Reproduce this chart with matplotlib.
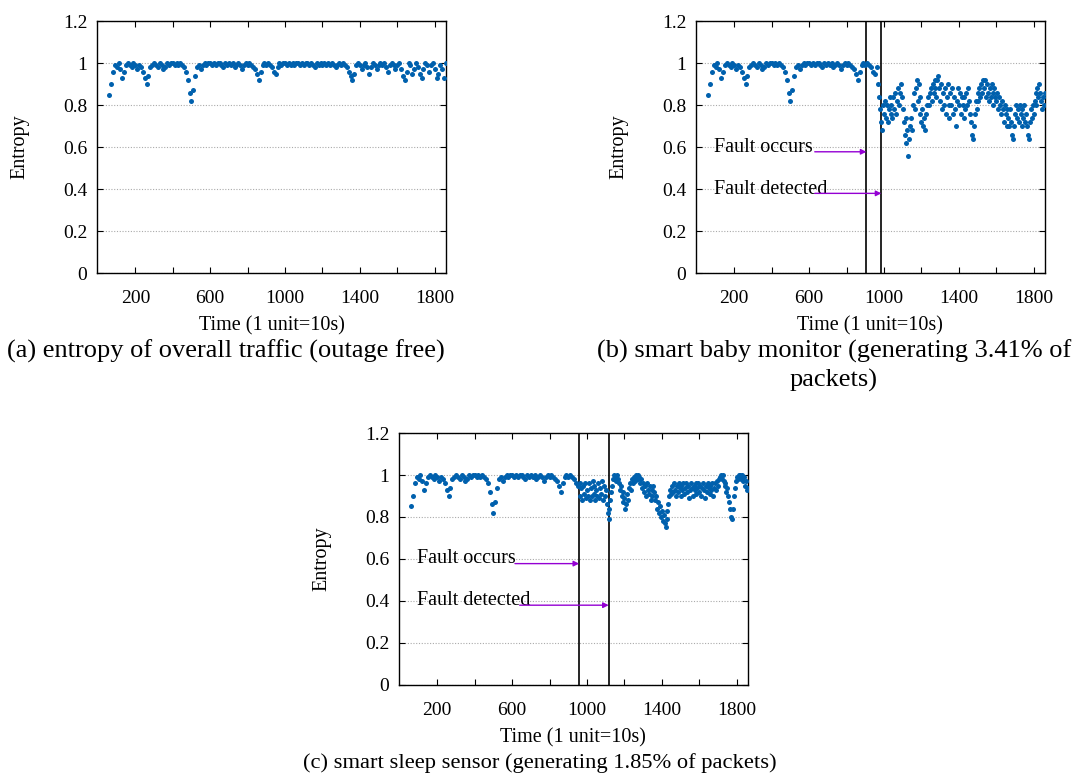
import numpy as np
import matplotlib
matplotlib.use('Agg')
import matplotlib.pyplot as plt

plt.rcParams['font.family'] = ['Liberation Serif', 'DejaVu Serif']

# time axis (1 unit = 10s)
t_start = 60
t_step = 10      # baseline read every 10 units
t_step_f = 5     # post-fault parts read every 5 units

# entropy of overall traffic; also the pre-fault part of (b) and (c)
base = [0.85, 0.90, 0.96, 0.99, 0.98, 1.0, 0.97, 0.93, 0.96, 0.99,
        1.0, 0.99, 0.98, 1.0, 0.99, 0.97, 0.99, 0.98, 0.96, 0.93,
        0.90, 0.94, 0.98, 0.99, 1.0, 0.99, 0.98, 1.0, 0.99, 0.97,
        0.98, 1.0, 0.99, 1.0, 1.0, 0.99, 1.0, 0.99, 1.0, 0.99,
        0.98, 0.96, 0.92, 0.86, 0.82, 0.87, 0.94, 0.98, 0.99, 0.97,
        0.99, 1.0, 0.99, 1.0, 1.0, 0.99, 1.0, 0.99, 1.0, 1.0,
        0.99, 0.98, 1.0, 0.99, 1.0, 0.99, 1.0, 0.98, 0.99, 1.0,
        0.99, 0.97, 0.99, 1.0, 0.99, 1.0, 0.99, 0.98, 0.97, 0.95,
        0.92, 0.96, 0.99, 1.0, 0.99, 1.0, 0.99, 0.98, 0.96, 0.95,
        0.98, 1.0, 0.99, 1.0, 1.0, 0.99, 1.0, 0.99, 1.0, 0.99,
        1.0, 1.0, 0.99, 1.0, 0.99, 1.0, 1.0, 0.99, 1.0, 0.99,
        0.98, 1.0, 0.99, 1.0, 0.99, 1.0, 0.99, 1.0, 0.99, 1.0,
        0.99, 0.98, 0.99, 1.0, 0.99, 1.0, 0.99, 0.98, 0.96, 0.94,
        0.92, 0.95, 0.99, 1.0, 0.99, 0.97, 0.99, 1.0, 0.98, 0.95,
        0.98, 1.0, 0.99, 0.97, 0.99, 1.0, 0.99, 1.0, 0.98, 0.96,
        0.99, 1.0, 0.99, 0.97, 0.99, 1.0, 0.97, 0.94, 0.92, 0.96,
        1.0, 0.99, 0.95, 0.97, 1.0, 0.98, 0.95, 0.93, 0.97, 1.0,
        0.99, 0.96, 0.99, 1.0, 0.97, 0.93, 0.95, 0.99, 0.97, 0.93,
        1.0]

# (b) smart baby monitor, after the fault (from t=970)
b_start = 970
b_after = [0.90, 0.84, 0.78, 0.72, 0.68, 0.80, 0.76, 0.82, 0.74, 0.80,
           0.72, 0.78, 0.84, 0.76, 0.80, 0.74, 0.84, 0.78, 0.86, 0.76,
           0.82, 0.88, 0.80, 0.86, 0.90, 0.84, 0.78, 0.72, 0.66, 0.74,
           0.62, 0.68, 0.56, 0.64, 0.70, 0.74, 0.68, 0.80, 0.86, 0.78,
           0.88, 0.92, 0.82, 0.90, 0.76, 0.84, 0.72, 0.78, 0.70, 0.74,
           0.68, 0.76, 0.80, 0.84, 0.80, 0.86, 0.88, 0.82, 0.90, 0.86,
           0.92, 0.88, 0.84, 0.92, 0.94, 0.88, 0.82, 0.90, 0.78, 0.86,
           0.80, 0.88, 0.76, 0.84, 0.90, 0.80, 0.74, 0.86, 0.80, 0.88,
           0.76, 0.84, 0.78, 0.70, 0.82, 0.88, 0.80, 0.86, 0.76, 0.84,
           0.80, 0.74, 0.84, 0.78, 0.86, 0.80, 0.88, 0.82, 0.76, 0.72,
           0.66, 0.64, 0.70, 0.76, 0.82, 0.78, 0.86, 0.82, 0.88, 0.84,
           0.90, 0.86, 0.92, 0.88, 0.92, 0.84, 0.90, 0.86, 0.82, 0.88,
           0.84, 0.90, 0.86, 0.80, 0.88, 0.84, 0.82, 0.86, 0.78, 0.84,
           0.80, 0.76, 0.82, 0.78, 0.72, 0.80, 0.76, 0.70, 0.78, 0.74,
           0.70, 0.78, 0.72, 0.66, 0.64, 0.70, 0.76, 0.80, 0.74, 0.78,
           0.72, 0.80, 0.76, 0.70, 0.78, 0.74, 0.80, 0.72, 0.76, 0.70,
           0.66, 0.64, 0.72, 0.78, 0.74, 0.80, 0.76, 0.82, 0.86, 0.80,
           0.88, 0.84, 0.90, 0.86, 0.82, 0.78, 0.84, 0.80, 0.86]

# (c) smart sleep sensor, after the fault (from t=960)
c_start = 960
c_after = [0.96, 0.90, 0.94, 0.88, 0.95, 0.91, 0.96, 0.89, 0.93, 0.90,
           0.96, 0.88, 0.94, 0.90, 0.97, 0.91, 0.95, 0.88, 0.93, 0.90,
           0.96, 0.89, 0.94, 0.91, 0.97, 0.88, 0.95, 0.90, 0.93, 0.86,
           0.82, 0.79, 0.84, 0.88, 0.92, 0.95, 0.98, 1.0, 0.99, 0.97,
           1.0, 0.98, 0.96, 0.93, 0.95, 0.90, 0.92, 0.87, 0.89, 0.84,
           0.86, 0.91, 0.88, 0.94, 0.96, 0.93, 0.98, 0.96, 0.99, 0.97,
           1.0, 0.99, 1.0, 0.98, 0.99, 0.96, 0.98, 0.94, 0.96, 0.92,
           0.95, 0.90, 0.96, 0.93, 0.91, 0.95, 0.88, 0.93, 0.90, 0.95,
           0.92, 0.88, 0.90, 0.84, 0.87, 0.82, 0.85, 0.80, 0.83, 0.78,
           0.81, 0.77, 0.75, 0.79, 0.83, 0.86, 0.90, 0.93, 0.91, 0.95,
           0.92, 0.96, 0.93, 0.90, 0.95, 0.92, 0.96, 0.94, 0.90, 0.95,
           0.93, 0.96, 0.91, 0.94, 0.96, 0.92, 0.95, 0.89, 0.93, 0.96,
           0.94, 0.90, 0.95, 0.93, 0.96, 0.91, 0.94, 0.96, 0.92, 0.95,
           0.90, 0.94, 0.96, 0.93, 0.89, 0.95, 0.92, 0.96, 0.94, 0.91,
           0.95, 0.93, 0.96, 0.90, 0.94, 0.96, 0.93, 0.97, 0.95, 0.98,
           0.99, 1.0, 0.98, 1.0, 0.97, 0.95, 0.96, 0.92, 0.94, 0.90,
           0.87, 0.84, 0.80, 0.79, 0.84, 0.90, 0.94, 0.97, 0.99, 0.98,
           1.0, 0.99, 1.0, 0.98, 1.0, 0.97, 0.99, 0.95, 0.97, 0.93,
           0.94]

b_fault = (906, 986)
c_fault = (958, 1116)

xticks = [200, 600, 1000, 1400, 1800]
yticks = [0, 0.2, 0.4, 0.6, 0.8, 1, 1.2]
ytick_labels = ['0', '0.2', '0.4', '0.6', '0.8', '1', '1.2']

blue = '#0060ad'
purple = '#9400d3'
fs_tick = 14
fs_lab = 14.5


def series(start, step, values):
    t = start + step * np.arange(len(values))
    return t, np.array(values)


def style(ax):
    ax.set_xlim(-5, 1860)
    ax.set_ylim(0, 1.2)
    ax.set_xticks(np.arange(200, 1801, 200), minor=True)
    ax.set_xticks(xticks)
    ax.set_xticklabels([str(v) for v in xticks])
    ax.set_yticks(yticks)
    ax.set_yticklabels(ytick_labels)
    ax.tick_params(direction='in', top=True, right=True, labelsize=fs_tick,
                   length=4, width=0.8)
    ax.tick_params(axis='x', pad=12)
    ax.tick_params(axis='y', pad=7)
    ax.tick_params(which='minor', direction='in', top=True, length=4, width=0.8)
    ax.grid(axis='y', color='#aaaaaa', linestyle=(0, (1, 1.5)), lw=0.8)
    ax.set_axisbelow(True)
    for s in ax.spines.values():
        s.set_linewidth(1.0)
    ax.set_xlabel('Time (1 unit=10s)', fontsize=fs_lab, labelpad=7)
    ax.set_ylabel('Entropy', fontsize=fs_lab, labelpad=24)


def faults(ax, fault, x_occ, x_det):
    for v in fault:
        ax.axvline(v, color='black', lw=1.2)
    ax.text(90, 0.60, 'Fault occurs', fontsize=fs_lab, va='center')
    ax.text(90, 0.40, 'Fault detected', fontsize=fs_lab, va='center')
    ap = dict(arrowstyle='-|>', color=purple, lw=1.0, mutation_scale=8,
              shrinkA=0, shrinkB=0)
    ax.annotate('', xy=(fault[0], 0.578), xytext=(x_occ, 0.578), arrowprops=ap)
    ax.annotate('', xy=(fault[1], 0.38), xytext=(x_det, 0.38), arrowprops=ap)


fig = plt.figure(figsize=(10.8, 7.76), dpi=100)
w, h = 0.3231, 0.3247
ax_a = fig.add_axes([0.0898, 0.648, w, h])
ax_b = fig.add_axes([0.6444, 0.648, w, h])
ax_c = fig.add_axes([0.3694, 0.1173, w, h])

mk = dict(linestyle='none', marker='o', markersize=3.6, color=blue,
          markeredgewidth=0, zorder=3)

ta, ya = series(t_start, t_step, base)
ax_a.plot(ta, ya, **mk)

keep = ta < b_start
tb, yb = series(b_start, t_step_f, b_after)
ax_b.plot(np.concatenate([ta[keep], tb]), np.concatenate([ya[keep], yb]), **mk)

keep = ta < c_start
tc, yc = series(c_start, t_step_f, c_after)
ax_c.plot(np.concatenate([ta[keep], tc]), np.concatenate([ya[keep], yc]), **mk)

for ax in (ax_a, ax_b, ax_c):
    style(ax)

faults(ax_b, b_fault, 630, 630)
faults(ax_c, c_fault, 615, 640)

cap = 19
fig.text(0.209, 0.547, '(a) entropy of overall traffic (outage free)',
         fontsize=cap, ha='center', va='center')
fig.text(0.772, 0.547, '(b) smart baby monitor (generating 3.41% of',
         fontsize=cap, ha='center', va='center')
fig.text(0.772, 0.510, 'packets)', fontsize=cap, ha='center', va='center')
fig.text(0.5, 0.017, '(c) smart sleep sensor (generating 1.85% of packets)',
         fontsize=16.2, ha='center', va='center')

plt.savefig('out.png', dpi=100)
plt.close()
